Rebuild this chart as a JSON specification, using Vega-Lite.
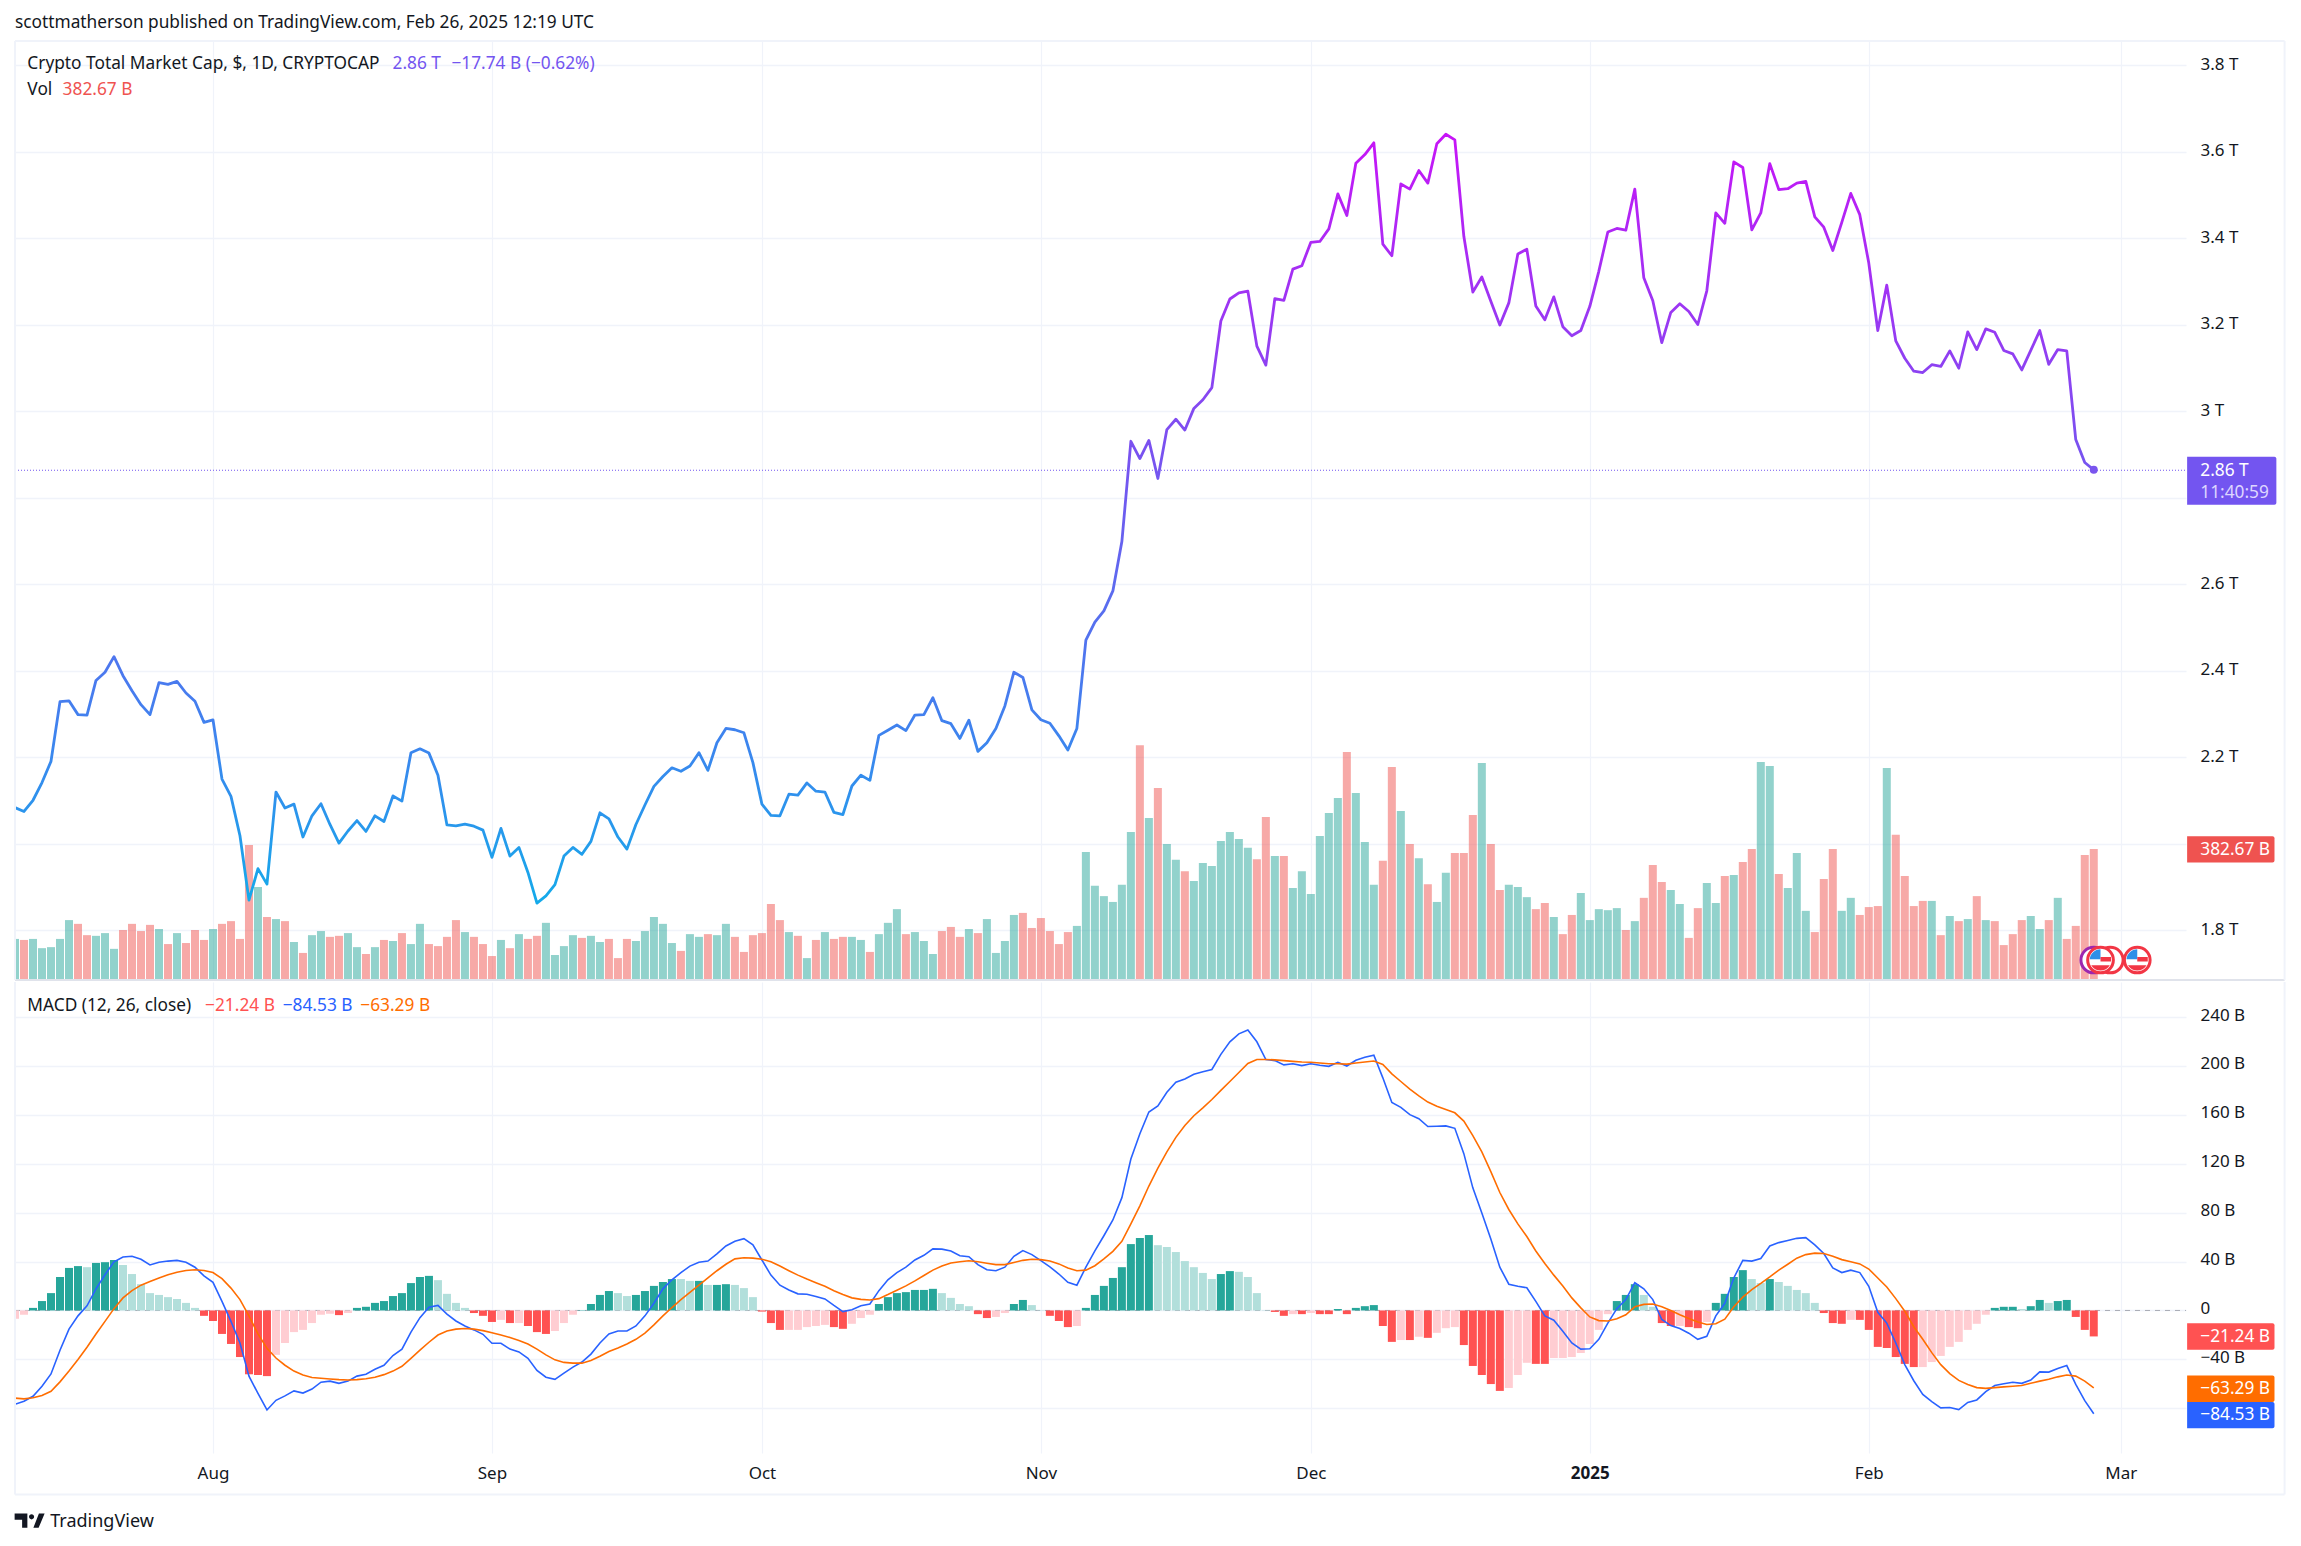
{
  "$schema": "https://vega.github.io/schema/vega-lite/v6.json",
  "background": "#ffffff",
  "autosize": {"type": "none"},
  "padding": {"left": 15, "top": 41, "right": 2286, "bottom": 1505},
  "spacing": 0,
  "config": {
    "view": {"stroke": null},
    "concat": {"spacing": 0},
    "axis": {"labelFont": "Noto Sans", "labelFontSize": 17, "labelColor": "#131722", "titleFont": "Noto Sans"},
    "text": {"font": "Noto Sans", "fontSize": 17.3}
  },
  "datasets": {
    "daily": [
      {"date":"2024-07-10","close":2.083,"volume":120,"dir":"up","hist":-6.8,"state":"downfade","macd":-76.7,"signal":-71.7},
      {"date":"2024-07-11","close":2.074,"volume":117,"dir":"down","hist":-3.5,"state":"downfade","macd":-74.3,"signal":-72.3},
      {"date":"2024-07-12","close":2.1,"volume":120,"dir":"up","hist":2.1,"state":"up","macd":-70.2,"signal":-71.4},
      {"date":"2024-07-13","close":2.141,"volume":93,"dir":"up","hist":7.7,"state":"up","macd":-62,"signal":-69.6},
      {"date":"2024-07-14","close":2.19,"volume":96,"dir":"up","hist":14.2,"state":"up","macd":-51.9,"signal":-66.1},
      {"date":"2024-07-15","close":2.328,"volume":120,"dir":"up","hist":27.4,"state":"up","macd":-32.5,"signal":-58.4},
      {"date":"2024-07-16","close":2.33,"volume":175,"dir":"up","hist":34.8,"state":"up","macd":-15.3,"signal":-49.6},
      {"date":"2024-07-17","close":2.298,"volume":164,"dir":"down","hist":36.3,"state":"up","macd":-4.4,"signal":-40.1},
      {"date":"2024-07-18","close":2.297,"volume":131,"dir":"down","hist":35.4,"state":"upfade","macd":3.8,"signal":-30.1},
      {"date":"2024-07-19","close":2.377,"volume":129,"dir":"up","hist":38.9,"state":"up","macd":17.7,"signal":-19.2},
      {"date":"2024-07-20","close":2.396,"volume":137,"dir":"up","hist":39.5,"state":"up","macd":29.2,"signal":-8.9},
      {"date":"2024-07-21","close":2.432,"volume":91,"dir":"up","hist":41.3,"state":"up","macd":39.8,"signal":1.5},
      {"date":"2024-07-22","close":2.388,"volume":146,"dir":"down","hist":37.2,"state":"upfade","macd":43.7,"signal":10.3},
      {"date":"2024-07-23","close":2.353,"volume":164,"dir":"down","hist":29.8,"state":"upfade","macd":44.3,"signal":16.2},
      {"date":"2024-07-24","close":2.321,"volume":143,"dir":"down","hist":21.5,"state":"upfade","macd":41.9,"signal":20.7},
      {"date":"2024-07-25","close":2.298,"volume":161,"dir":"down","hist":14.2,"state":"upfade","macd":37.2,"signal":23.6},
      {"date":"2024-07-26","close":2.372,"volume":149,"dir":"up","hist":12.7,"state":"upfade","macd":39.5,"signal":26.6},
      {"date":"2024-07-27","close":2.368,"volume":105,"dir":"down","hist":10.9,"state":"upfade","macd":40.4,"signal":29.2},
      {"date":"2024-07-28","close":2.375,"volume":137,"dir":"up","hist":9.4,"state":"upfade","macd":41,"signal":31.3},
      {"date":"2024-07-29","close":2.348,"volume":108,"dir":"down","hist":6.2,"state":"upfade","macd":39.5,"signal":32.7},
      {"date":"2024-07-30","close":2.329,"volume":146,"dir":"down","hist":2.1,"state":"upfade","macd":35.4,"signal":33.3},
      {"date":"2024-07-31","close":2.28,"volume":117,"dir":"down","hist":-4.4,"state":"down","macd":28.3,"signal":32.7},
      {"date":"2024-08-01","close":2.286,"volume":149,"dir":"up","hist":-8.6,"state":"down","macd":23,"signal":31},
      {"date":"2024-08-02","close":2.149,"volume":164,"dir":"down","hist":-19.2,"state":"down","macd":7.4,"signal":26},
      {"date":"2024-08-03","close":2.109,"volume":172,"dir":"down","hist":-27.4,"state":"down","macd":-8.9,"signal":18.3},
      {"date":"2024-08-04","close":2.018,"volume":120,"dir":"down","hist":-38.1,"state":"down","macd":-26.6,"signal":8.9},
      {"date":"2024-08-05","close":1.869,"volume":394,"dir":"down","hist":-52.2,"state":"down","macd":-53.7,"signal":-4.4},
      {"date":"2024-08-06","close":1.942,"volume":272,"dir":"up","hist":-52.8,"state":"down","macd":-67.9,"signal":-19.2},
      {"date":"2024-08-07","close":1.906,"volume":184,"dir":"down","hist":-53.7,"state":"down","macd":-81.4,"signal":-31},
      {"date":"2024-08-08","close":2.119,"volume":178,"dir":"up","hist":-36.3,"state":"downfade","macd":-73.5,"signal":-38.9},
      {"date":"2024-08-09","close":2.082,"volume":172,"dir":"down","hist":-26.6,"state":"downfade","macd":-69.9,"signal":-44.8},
      {"date":"2024-08-10","close":2.091,"volume":111,"dir":"up","hist":-17.7,"state":"downfade","macd":-65.8,"signal":-49.6},
      {"date":"2024-08-11","close":2.015,"volume":79,"dir":"down","hist":-15.9,"state":"downfade","macd":-67.6,"signal":-52.8},
      {"date":"2024-08-12","close":2.064,"volume":131,"dir":"up","hist":-10.3,"state":"downfade","macd":-64.3,"signal":-54.9},
      {"date":"2024-08-13","close":2.092,"volume":143,"dir":"up","hist":-3.5,"state":"downfade","macd":-58.7,"signal":-55.5},
      {"date":"2024-08-14","close":2.044,"volume":126,"dir":"down","hist":-2.7,"state":"downfade","macd":-57.8,"signal":-56.1},
      {"date":"2024-08-15","close":2.001,"volume":129,"dir":"down","hist":-3.8,"state":"down","macd":-59.6,"signal":-56.6},
      {"date":"2024-08-16","close":2.029,"volume":137,"dir":"up","hist":-2.1,"state":"downfade","macd":-57.8,"signal":-56.9},
      {"date":"2024-08-17","close":2.053,"volume":96,"dir":"up","hist":2.1,"state":"up","macd":-53.7,"signal":-56.6},
      {"date":"2024-08-18","close":2.028,"volume":76,"dir":"down","hist":3,"state":"up","macd":-52.2,"signal":-55.8},
      {"date":"2024-08-19","close":2.064,"volume":96,"dir":"up","hist":6.2,"state":"up","macd":-48.1,"signal":-54.6},
      {"date":"2024-08-20","close":2.051,"volume":117,"dir":"down","hist":7.7,"state":"up","macd":-44.8,"signal":-52.5},
      {"date":"2024-08-21","close":2.11,"volume":114,"dir":"up","hist":11.8,"state":"up","macd":-36.9,"signal":-49.6},
      {"date":"2024-08-22","close":2.098,"volume":137,"dir":"down","hist":14.2,"state":"up","macd":-31.6,"signal":-45.7},
      {"date":"2024-08-23","close":2.21,"volume":105,"dir":"up","hist":22.4,"state":"up","macd":-17.7,"signal":-39.2},
      {"date":"2024-08-24","close":2.219,"volume":164,"dir":"up","hist":27.4,"state":"up","macd":-5.9,"signal":-32.5},
      {"date":"2024-08-25","close":2.209,"volume":105,"dir":"down","hist":28.3,"state":"up","macd":2.7,"signal":-26},
      {"date":"2024-08-26","close":2.158,"volume":99,"dir":"down","hist":24.8,"state":"upfade","macd":4.1,"signal":-20.1},
      {"date":"2024-08-27","close":2.043,"volume":126,"dir":"down","hist":13.6,"state":"upfade","macd":-3,"signal":-16.8},
      {"date":"2024-08-28","close":2.041,"volume":175,"dir":"down","hist":6.2,"state":"upfade","macd":-8.6,"signal":-15.3},
      {"date":"2024-08-29","close":2.045,"volume":140,"dir":"up","hist":2.1,"state":"upfade","macd":-12.7,"signal":-14.8},
      {"date":"2024-08-30","close":2.04,"volume":126,"dir":"down","hist":-2.1,"state":"down","macd":-15.9,"signal":-15.3},
      {"date":"2024-08-31","close":2.031,"volume":105,"dir":"down","hist":-4.4,"state":"down","macd":-19.5,"signal":-16.5},
      {"date":"2024-09-01","close":1.968,"volume":70,"dir":"down","hist":-9.4,"state":"down","macd":-26.8,"signal":-18.3},
      {"date":"2024-09-02","close":2.035,"volume":117,"dir":"up","hist":-7.7,"state":"downfade","macd":-26.8,"signal":-20.1},
      {"date":"2024-09-03","close":1.971,"volume":93,"dir":"down","hist":-10.3,"state":"down","macd":-31.6,"signal":-22.1},
      {"date":"2024-09-04","close":1.991,"volume":134,"dir":"up","hist":-10.3,"state":"downfade","macd":-33.9,"signal":-24.5},
      {"date":"2024-09-05","close":1.933,"volume":120,"dir":"down","hist":-12.7,"state":"down","macd":-39.2,"signal":-27.4},
      {"date":"2024-09-06","close":1.862,"volume":129,"dir":"down","hist":-17.7,"state":"down","macd":-49,"signal":-31.6},
      {"date":"2024-09-07","close":1.879,"volume":167,"dir":"up","hist":-19.2,"state":"down","macd":-54.6,"signal":-36.3},
      {"date":"2024-09-08","close":1.905,"volume":73,"dir":"up","hist":-16.8,"state":"downfade","macd":-56.3,"signal":-40.4},
      {"date":"2024-09-09","close":1.971,"volume":99,"dir":"up","hist":-10.3,"state":"downfade","macd":-51.3,"signal":-42.5},
      {"date":"2024-09-10","close":1.991,"volume":131,"dir":"up","hist":-3.5,"state":"downfade","macd":-46.3,"signal":-43.1},
      {"date":"2024-09-11","close":1.975,"volume":123,"dir":"down","hist":0.3,"state":"up","macd":-42.2,"signal":-43.1},
      {"date":"2024-09-12","close":2.005,"volume":129,"dir":"up","hist":5.3,"state":"up","macd":-35.7,"signal":-41},
      {"date":"2024-09-13","close":2.071,"volume":111,"dir":"up","hist":12.7,"state":"up","macd":-26.6,"signal":-37.5},
      {"date":"2024-09-14","close":2.057,"volume":120,"dir":"down","hist":15.9,"state":"up","macd":-19.2,"signal":-33.6},
      {"date":"2024-09-15","close":2.015,"volume":64,"dir":"down","hist":14.2,"state":"upfade","macd":-16.8,"signal":-30.7},
      {"date":"2024-09-16","close":1.987,"volume":120,"dir":"down","hist":11.8,"state":"upfade","macd":-16.8,"signal":-27.4},
      {"date":"2024-09-17","close":2.044,"volume":114,"dir":"up","hist":12.7,"state":"up","macd":-12.7,"signal":-23.6},
      {"date":"2024-09-18","close":2.089,"volume":143,"dir":"up","hist":15.9,"state":"up","macd":-4.4,"signal":-18.6},
      {"date":"2024-09-19","close":2.132,"volume":184,"dir":"up","hist":20.1,"state":"up","macd":5.9,"signal":-11.8},
      {"date":"2024-09-20","close":2.155,"volume":164,"dir":"up","hist":23.3,"state":"up","macd":17.7,"signal":-4.4},
      {"date":"2024-09-21","close":2.175,"volume":108,"dir":"up","hist":25.7,"state":"up","macd":25.1,"signal":2.4},
      {"date":"2024-09-22","close":2.167,"volume":85,"dir":"down","hist":25.7,"state":"upfade","macd":31,"signal":8.9},
      {"date":"2024-09-23","close":2.179,"volume":134,"dir":"up","hist":24.2,"state":"upfade","macd":36.3,"signal":14.8},
      {"date":"2024-09-24","close":2.21,"volume":126,"dir":"up","hist":24.2,"state":"up","macd":39.5,"signal":20.7},
      {"date":"2024-09-25","close":2.169,"volume":134,"dir":"down","hist":20.9,"state":"upfade","macd":40.4,"signal":26.6},
      {"date":"2024-09-26","close":2.233,"volume":131,"dir":"up","hist":20.9,"state":"up","macd":46.3,"signal":32.5},
      {"date":"2024-09-27","close":2.266,"volume":164,"dir":"up","hist":21.5,"state":"up","macd":52.8,"signal":37.8},
      {"date":"2024-09-28","close":2.263,"volume":126,"dir":"down","hist":20.9,"state":"upfade","macd":56.6,"signal":42.2},
      {"date":"2024-09-29","close":2.256,"volume":82,"dir":"down","hist":18.3,"state":"upfade","macd":58.7,"signal":43.1},
      {"date":"2024-09-30","close":2.187,"volume":131,"dir":"down","hist":10.9,"state":"upfade","macd":53.7,"signal":42.8},
      {"date":"2024-10-01","close":2.091,"volume":137,"dir":"down","hist":-0.9,"state":"down","macd":41.3,"signal":41.9},
      {"date":"2024-10-02","close":2.065,"volume":222,"dir":"down","hist":-10.3,"state":"down","macd":28.9,"signal":39.8},
      {"date":"2024-10-03","close":2.064,"volume":175,"dir":"down","hist":-15.9,"state":"down","macd":20.7,"signal":36.3},
      {"date":"2024-10-04","close":2.114,"volume":140,"dir":"up","hist":-15.9,"state":"downfade","macd":16.8,"signal":32.5},
      {"date":"2024-10-05","close":2.112,"volume":129,"dir":"down","hist":-15.9,"state":"downfade","macd":13.6,"signal":28.9},
      {"date":"2024-10-06","close":2.14,"volume":64,"dir":"up","hist":-13.6,"state":"downfade","macd":13.3,"signal":25.7},
      {"date":"2024-10-07","close":2.121,"volume":117,"dir":"down","hist":-12.7,"state":"downfade","macd":11.5,"signal":22.7},
      {"date":"2024-10-08","close":2.119,"volume":140,"dir":"up","hist":-11.8,"state":"downfade","macd":9.4,"signal":19.8},
      {"date":"2024-10-09","close":2.072,"volume":120,"dir":"down","hist":-13.6,"state":"down","macd":4.1,"signal":16.2},
      {"date":"2024-10-10","close":2.067,"volume":126,"dir":"down","hist":-15,"state":"down","macd":-0.9,"signal":13},
      {"date":"2024-10-11","close":2.133,"volume":126,"dir":"up","hist":-10.9,"state":"downfade","macd":0.6,"signal":10.3},
      {"date":"2024-10-12","close":2.158,"volume":117,"dir":"up","hist":-6.2,"state":"downfade","macd":3.8,"signal":9.1},
      {"date":"2024-10-13","close":2.146,"volume":82,"dir":"down","hist":-3.5,"state":"downfade","macd":5.3,"signal":8.6},
      {"date":"2024-10-14","close":2.25,"volume":134,"dir":"up","hist":5.3,"state":"up","macd":16.2,"signal":9.7},
      {"date":"2024-10-15","close":2.262,"volume":167,"dir":"up","hist":10.9,"state":"up","macd":25.1,"signal":13},
      {"date":"2024-10-16","close":2.274,"volume":207,"dir":"up","hist":14.2,"state":"up","macd":31,"signal":16.5},
      {"date":"2024-10-17","close":2.261,"volume":134,"dir":"down","hist":15,"state":"up","macd":35.4,"signal":20.1},
      {"date":"2024-10-18","close":2.297,"volume":140,"dir":"up","hist":16.8,"state":"up","macd":41.3,"signal":24.2},
      {"date":"2024-10-19","close":2.298,"volume":114,"dir":"up","hist":16.8,"state":"up","macd":45.1,"signal":28.6},
      {"date":"2024-10-20","close":2.337,"volume":76,"dir":"up","hist":17.7,"state":"up","macd":50.4,"signal":33},
      {"date":"2024-10-21","close":2.284,"volume":143,"dir":"down","hist":14.2,"state":"upfade","macd":50.2,"signal":36.3},
      {"date":"2024-10-22","close":2.277,"volume":155,"dir":"down","hist":10.3,"state":"upfade","macd":48.7,"signal":38.9},
      {"date":"2024-10-23","close":2.243,"volume":126,"dir":"down","hist":5.3,"state":"upfade","macd":44.8,"signal":39.8},
      {"date":"2024-10-24","close":2.285,"volume":149,"dir":"up","hist":3.5,"state":"upfade","macd":44,"signal":40.7},
      {"date":"2024-10-25","close":2.213,"volume":137,"dir":"down","hist":-3,"state":"down","macd":37.5,"signal":39.8},
      {"date":"2024-10-26","close":2.233,"volume":178,"dir":"up","hist":-6.2,"state":"down","macd":33.3,"signal":38.6},
      {"date":"2024-10-27","close":2.266,"volume":79,"dir":"up","hist":-5.3,"state":"downfade","macd":32.5,"signal":37.5},
      {"date":"2024-10-28","close":2.318,"volume":114,"dir":"up","hist":-2.1,"state":"downfade","macd":35.4,"signal":37.5},
      {"date":"2024-10-29","close":2.396,"volume":190,"dir":"up","hist":5.3,"state":"up","macd":44.3,"signal":39.2},
      {"date":"2024-10-30","close":2.384,"volume":196,"dir":"down","hist":8.6,"state":"up","macd":49,"signal":41},
      {"date":"2024-10-31","close":2.309,"volume":152,"dir":"down","hist":4.4,"state":"upfade","macd":45.7,"signal":41.9},
      {"date":"2024-11-01","close":2.286,"volume":181,"dir":"down","hist":0.3,"state":"upfade","macd":40.7,"signal":41.6},
      {"date":"2024-11-02","close":2.278,"volume":143,"dir":"down","hist":-4.4,"state":"down","macd":35.7,"signal":40.4},
      {"date":"2024-11-03","close":2.249,"volume":105,"dir":"down","hist":-8.6,"state":"down","macd":29.8,"signal":38.1},
      {"date":"2024-11-04","close":2.216,"volume":140,"dir":"down","hist":-13.6,"state":"down","macd":23,"signal":34.8},
      {"date":"2024-11-05","close":2.266,"volume":158,"dir":"up","hist":-12.7,"state":"downfade","macd":20.7,"signal":32.5},
      {"date":"2024-11-06","close":2.47,"volume":374,"dir":"up","hist":2.1,"state":"up","macd":35.4,"signal":33},
      {"date":"2024-11-07","close":2.512,"volume":275,"dir":"up","hist":12.7,"state":"up","macd":48.7,"signal":36.6},
      {"date":"2024-11-08","close":2.538,"volume":245,"dir":"up","hist":20.1,"state":"up","macd":61.1,"signal":42.2},
      {"date":"2024-11-09","close":2.584,"volume":228,"dir":"up","hist":26.6,"state":"up","macd":74,"signal":48.4},
      {"date":"2024-11-10","close":2.698,"volume":278,"dir":"up","hist":35.4,"state":"up","macd":92.3,"signal":56.6},
      {"date":"2024-11-11","close":2.93,"volume":432,"dir":"up","hist":54.3,"state":"up","macd":123.9,"signal":70.8},
      {"date":"2024-11-12","close":2.89,"volume":686,"dir":"down","hist":59.3,"state":"up","macd":144.6,"signal":85.6},
      {"date":"2024-11-13","close":2.932,"volume":473,"dir":"up","hist":61.7,"state":"up","macd":162.3,"signal":101.8},
      {"date":"2024-11-14","close":2.844,"volume":561,"dir":"down","hist":53.4,"state":"upfade","macd":167.3,"signal":116.5},
      {"date":"2024-11-15","close":2.957,"volume":397,"dir":"up","hist":51.9,"state":"upfade","macd":178.5,"signal":129.8},
      {"date":"2024-11-16","close":2.981,"volume":351,"dir":"up","hist":47.8,"state":"upfade","macd":186.7,"signal":141.6},
      {"date":"2024-11-17","close":2.956,"volume":318,"dir":"down","hist":40.4,"state":"upfade","macd":189.4,"signal":151.3},
      {"date":"2024-11-18","close":3.006,"volume":289,"dir":"up","hist":35.4,"state":"upfade","macd":193.2,"signal":159.3},
      {"date":"2024-11-19","close":3.026,"volume":342,"dir":"up","hist":30.7,"state":"upfade","macd":195.3,"signal":165.8},
      {"date":"2024-11-20","close":3.054,"volume":333,"dir":"up","hist":25.7,"state":"upfade","macd":197.1,"signal":172.6},
      {"date":"2024-11-21","close":3.208,"volume":406,"dir":"up","hist":29.8,"state":"up","macd":209.5,"signal":180},
      {"date":"2024-11-22","close":3.259,"volume":432,"dir":"up","hist":32.2,"state":"up","macd":219.8,"signal":187.3},
      {"date":"2024-11-23","close":3.273,"volume":412,"dir":"up","hist":31.6,"state":"upfade","macd":226.3,"signal":194.7},
      {"date":"2024-11-24","close":3.277,"volume":386,"dir":"up","hist":27.4,"state":"upfade","macd":229.5,"signal":202.1},
      {"date":"2024-11-25","close":3.15,"volume":353,"dir":"down","hist":14.2,"state":"upfade","macd":219.8,"signal":205.3},
      {"date":"2024-11-26","close":3.106,"volume":476,"dir":"down","hist":0.3,"state":"upfade","macd":205.3,"signal":205.3},
      {"date":"2024-11-27","close":3.26,"volume":362,"dir":"up","hist":-1.2,"state":"down","macd":204.4,"signal":205},
      {"date":"2024-11-28","close":3.256,"volume":362,"dir":"down","hist":-4.4,"state":"down","macd":200.9,"signal":204.4},
      {"date":"2024-11-29","close":3.328,"volume":269,"dir":"up","hist":-3,"state":"downfade","macd":201.8,"signal":203.8},
      {"date":"2024-11-30","close":3.336,"volume":318,"dir":"up","hist":-3,"state":"down","macd":200.3,"signal":203.3},
      {"date":"2024-12-01","close":3.39,"volume":251,"dir":"up","hist":-2.1,"state":"downfade","macd":201.8,"signal":203},
      {"date":"2024-12-02","close":3.392,"volume":421,"dir":"up","hist":-3,"state":"down","macd":200.6,"signal":202.4},
      {"date":"2024-12-03","close":3.421,"volume":488,"dir":"up","hist":-3,"state":"down","macd":199.7,"signal":201.8},
      {"date":"2024-12-04","close":3.502,"volume":532,"dir":"up","hist":1.2,"state":"up","macd":203,"signal":201.8},
      {"date":"2024-12-05","close":3.452,"volume":666,"dir":"down","hist":-3,"state":"down","macd":200,"signal":201.5},
      {"date":"2024-12-06","close":3.573,"volume":546,"dir":"up","hist":2.1,"state":"up","macd":204.7,"signal":202.4},
      {"date":"2024-12-07","close":3.593,"volume":403,"dir":"up","hist":3.5,"state":"up","macd":207.1,"signal":203.3},
      {"date":"2024-12-08","close":3.62,"volume":278,"dir":"up","hist":4.4,"state":"up","macd":208.9,"signal":204.1},
      {"date":"2024-12-09","close":3.386,"volume":348,"dir":"down","hist":-12.7,"state":"down","macd":190.3,"signal":201.2},
      {"date":"2024-12-10","close":3.359,"volume":622,"dir":"down","hist":-25.7,"state":"down","macd":170.2,"signal":193.5},
      {"date":"2024-12-11","close":3.525,"volume":494,"dir":"up","hist":-24.2,"state":"downfade","macd":166.1,"signal":187.3},
      {"date":"2024-12-12","close":3.513,"volume":397,"dir":"down","hist":-24.2,"state":"down","macd":160.2,"signal":181.1},
      {"date":"2024-12-13","close":3.556,"volume":356,"dir":"up","hist":-21.5,"state":"downfade","macd":156.9,"signal":175.5},
      {"date":"2024-12-14","close":3.527,"volume":280,"dir":"down","hist":-22.4,"state":"down","macd":150.5,"signal":170.5},
      {"date":"2024-12-15","close":3.618,"volume":228,"dir":"up","hist":-18.3,"state":"downfade","macd":150.7,"signal":167},
      {"date":"2024-12-16","close":3.64,"volume":313,"dir":"up","hist":-14.5,"state":"downfade","macd":151,"signal":164.3},
      {"date":"2024-12-17","close":3.627,"volume":371,"dir":"down","hist":-13.6,"state":"downfade","macd":149,"signal":161.7},
      {"date":"2024-12-18","close":3.404,"volume":371,"dir":"down","hist":-28.3,"state":"down","macd":128.3,"signal":154.9},
      {"date":"2024-12-19","close":3.275,"volume":482,"dir":"down","hist":-45.4,"state":"down","macd":100.3,"signal":143.1},
      {"date":"2024-12-20","close":3.31,"volume":634,"dir":"up","hist":-52.8,"state":"down","macd":79.7,"signal":129.8},
      {"date":"2024-12-21","close":3.254,"volume":397,"dir":"down","hist":-60.2,"state":"down","macd":58.4,"signal":113.6},
      {"date":"2024-12-22","close":3.199,"volume":263,"dir":"down","hist":-65.8,"state":"down","macd":35.4,"signal":96.5},
      {"date":"2024-12-23","close":3.25,"volume":278,"dir":"up","hist":-63.4,"state":"downfade","macd":21.5,"signal":82.6},
      {"date":"2024-12-24","close":3.363,"volume":272,"dir":"up","hist":-52.8,"state":"downfade","macd":19.8,"signal":70.8},
      {"date":"2024-12-25","close":3.374,"volume":242,"dir":"up","hist":-42.8,"state":"downfade","macd":18.6,"signal":60.5},
      {"date":"2024-12-26","close":3.243,"volume":207,"dir":"down","hist":-43.7,"state":"down","macd":7.4,"signal":48.7},
      {"date":"2024-12-27","close":3.211,"volume":225,"dir":"down","hist":-43.7,"state":"down","macd":-4.4,"signal":38.4},
      {"date":"2024-12-28","close":3.264,"volume":184,"dir":"up","hist":-38.9,"state":"downfade","macd":-8,"signal":28.9},
      {"date":"2024-12-29","close":3.195,"volume":134,"dir":"down","hist":-38.9,"state":"downfade","macd":-17.1,"signal":20.1},
      {"date":"2024-12-30","close":3.174,"volume":190,"dir":"down","hist":-38.1,"state":"downfade","macd":-26.6,"signal":10.3},
      {"date":"2024-12-31","close":3.186,"volume":254,"dir":"up","hist":-34.8,"state":"downfade","macd":-31.6,"signal":2.1},
      {"date":"2025-01-01","close":3.242,"volume":175,"dir":"up","hist":-27.4,"state":"downfade","macd":-31.3,"signal":-5.3},
      {"date":"2025-01-02","close":3.323,"volume":207,"dir":"up","hist":-15.9,"state":"downfade","macd":-23.6,"signal":-8.3},
      {"date":"2025-01-03","close":3.414,"volume":204,"dir":"up","hist":-3,"state":"downfade","macd":-10.3,"signal":-8.6},
      {"date":"2025-01-04","close":3.422,"volume":210,"dir":"up","hist":7.7,"state":"up","macd":1.5,"signal":-6.8},
      {"date":"2025-01-05","close":3.418,"volume":146,"dir":"down","hist":12.7,"state":"up","macd":8.9,"signal":-3.5},
      {"date":"2025-01-06","close":3.513,"volume":172,"dir":"up","hist":21.5,"state":"up","macd":22.7,"signal":3},
      {"date":"2025-01-07","close":3.308,"volume":240,"dir":"down","hist":12.7,"state":"upfade","macd":17.7,"signal":5},
      {"date":"2025-01-08","close":3.255,"volume":336,"dir":"down","hist":3,"state":"upfade","macd":8.9,"signal":5.3},
      {"date":"2025-01-09","close":3.158,"volume":286,"dir":"down","hist":-10.3,"state":"down","macd":-7.4,"signal":3},
      {"date":"2025-01-10","close":3.228,"volume":263,"dir":"up","hist":-12.7,"state":"down","macd":-12.4,"signal":0},
      {"date":"2025-01-11","close":3.248,"volume":222,"dir":"up","hist":-12.7,"state":"downfade","macd":-14.8,"signal":-3.5},
      {"date":"2025-01-12","close":3.23,"volume":123,"dir":"down","hist":-13.6,"state":"down","macd":-18.6,"signal":-6.5},
      {"date":"2025-01-13","close":3.2,"volume":210,"dir":"down","hist":-14.5,"state":"down","macd":-23.6,"signal":-9.4},
      {"date":"2025-01-14","close":3.278,"volume":283,"dir":"up","hist":-9.4,"state":"downfade","macd":-21.2,"signal":-11.5},
      {"date":"2025-01-15","close":3.458,"volume":225,"dir":"up","hist":6.2,"state":"up","macd":-4.4,"signal":-10.9},
      {"date":"2025-01-16","close":3.434,"volume":304,"dir":"down","hist":13.6,"state":"up","macd":5.9,"signal":-7.1},
      {"date":"2025-01-17","close":3.576,"volume":307,"dir":"up","hist":27.4,"state":"up","macd":26.6,"signal":3},
      {"date":"2025-01-18","close":3.563,"volume":345,"dir":"down","hist":33,"state":"up","macd":41,"signal":10.9},
      {"date":"2025-01-19","close":3.419,"volume":383,"dir":"down","hist":25.7,"state":"upfade","macd":40.4,"signal":17.1},
      {"date":"2025-01-20","close":3.458,"volume":637,"dir":"up","hist":22.4,"state":"upfade","macd":42.5,"signal":22.1},
      {"date":"2025-01-21","close":3.572,"volume":625,"dir":"up","hist":25.7,"state":"up","macd":52.8,"signal":27.4},
      {"date":"2025-01-22","close":3.512,"volume":310,"dir":"down","hist":23.3,"state":"upfade","macd":55.5,"signal":33},
      {"date":"2025-01-23","close":3.514,"volume":269,"dir":"up","hist":20.1,"state":"upfade","macd":57.2,"signal":37.8},
      {"date":"2025-01-24","close":3.527,"volume":371,"dir":"up","hist":16.8,"state":"upfade","macd":59,"signal":42.8},
      {"date":"2025-01-25","close":3.531,"volume":202,"dir":"up","hist":14.2,"state":"upfade","macd":59.6,"signal":45.7},
      {"date":"2025-01-26","close":3.449,"volume":140,"dir":"down","hist":6.2,"state":"upfade","macd":53.7,"signal":46.9},
      {"date":"2025-01-27","close":3.425,"volume":295,"dir":"down","hist":-2.1,"state":"down","macd":46.6,"signal":46.6},
      {"date":"2025-01-28","close":3.371,"volume":383,"dir":"down","hist":-10.3,"state":"down","macd":34.8,"signal":44.3},
      {"date":"2025-01-29","close":3.436,"volume":202,"dir":"up","hist":-10.9,"state":"down","macd":31,"signal":41.6},
      {"date":"2025-01-30","close":3.503,"volume":240,"dir":"up","hist":-7.7,"state":"downfade","macd":33,"signal":39.8},
      {"date":"2025-01-31","close":3.454,"volume":190,"dir":"down","hist":-7.7,"state":"down","macd":31,"signal":38.1},
      {"date":"2025-02-01","close":3.342,"volume":213,"dir":"down","hist":-15.9,"state":"down","macd":19.8,"signal":33.9},
      {"date":"2025-02-02","close":3.186,"volume":216,"dir":"down","hist":-29.8,"state":"down","macd":-1.5,"signal":26.6},
      {"date":"2025-02-03","close":3.291,"volume":619,"dir":"up","hist":-30.7,"state":"down","macd":-10.3,"signal":19.2},
      {"date":"2025-02-04","close":3.162,"volume":424,"dir":"down","hist":-38.1,"state":"down","macd":-26.6,"signal":9.7},
      {"date":"2025-02-05","close":3.122,"volume":304,"dir":"down","hist":-43.7,"state":"down","macd":-44.3,"signal":-0.6},
      {"date":"2025-02-06","close":3.092,"volume":216,"dir":"down","hist":-46.3,"state":"down","macd":-57.5,"signal":-13.3},
      {"date":"2025-02-07","close":3.089,"volume":231,"dir":"down","hist":-46.3,"state":"downfade","macd":-68.7,"signal":-23.6},
      {"date":"2025-02-08","close":3.107,"volume":231,"dir":"up","hist":-42.2,"state":"downfade","macd":-74.6,"signal":-34.5},
      {"date":"2025-02-09","close":3.103,"volume":131,"dir":"down","hist":-37.2,"state":"downfade","macd":-79.7,"signal":-44.3},
      {"date":"2025-02-10","close":3.139,"volume":187,"dir":"up","hist":-29.8,"state":"downfade","macd":-79.4,"signal":-51.6},
      {"date":"2025-02-11","close":3.099,"volume":172,"dir":"down","hist":-25.7,"state":"downfade","macd":-81.1,"signal":-57.2},
      {"date":"2025-02-12","close":3.183,"volume":178,"dir":"up","hist":-15.9,"state":"downfade","macd":-75.2,"signal":-60.5},
      {"date":"2025-02-13","close":3.142,"volume":245,"dir":"down","hist":-10.9,"state":"downfade","macd":-73.2,"signal":-63.1},
      {"date":"2025-02-14","close":3.19,"volume":175,"dir":"up","hist":-3.5,"state":"downfade","macd":-66.4,"signal":-63.7},
      {"date":"2025-02-15","close":3.182,"volume":172,"dir":"down","hist":2.1,"state":"up","macd":-61.4,"signal":-63.1},
      {"date":"2025-02-16","close":3.14,"volume":102,"dir":"down","hist":3,"state":"up","macd":-59.9,"signal":-62.5},
      {"date":"2025-02-17","close":3.132,"volume":134,"dir":"down","hist":3,"state":"up","macd":-58.7,"signal":-62},
      {"date":"2025-02-18","close":3.095,"volume":175,"dir":"down","hist":1.2,"state":"upfade","macd":-59.6,"signal":-61.4},
      {"date":"2025-02-19","close":3.14,"volume":187,"dir":"up","hist":3.5,"state":"up","macd":-56.9,"signal":-59.6},
      {"date":"2025-02-20","close":3.186,"volume":149,"dir":"up","hist":8.6,"state":"up","macd":-50.2,"signal":-57.8},
      {"date":"2025-02-21","close":3.108,"volume":175,"dir":"down","hist":6.2,"state":"upfade","macd":-50.4,"signal":-56.3},
      {"date":"2025-02-22","close":3.142,"volume":240,"dir":"up","hist":7.7,"state":"up","macd":-47.5,"signal":-54.3},
      {"date":"2025-02-23","close":3.139,"volume":120,"dir":"down","hist":8.6,"state":"up","macd":-45.1,"signal":-52.8},
      {"date":"2025-02-24","close":2.934,"volume":158,"dir":"down","hist":-5.3,"state":"down","macd":-60.5,"signal":-53.7},
      {"date":"2025-02-25","close":2.881,"volume":365,"dir":"down","hist":-15.9,"state":"down","macd":-73.8,"signal":-57.8},
      {"date":"2025-02-26","close":2.864,"volume":382.67,"dir":"down","hist":-21.24,"state":"down","macd":-84.53,"signal":-63.29}
    ],
    "last": [{"date":"2025-02-26","close":2.864}],
    "events": [
      {"date":"2025-02-26T00:00:00Z","price":1.7306,"kind":"purple","flag":false},
      {"date":"2025-02-27T20:00:00Z","price":1.7306,"kind":"red","flag":false},
      {"date":"2025-02-26T18:00:00Z","price":1.7306,"kind":"red","flag":true},
      {"date":"2025-03-02T20:00:00Z","price":1.7306,"kind":"red","flag":true}
    ],
    "topNotes": [
      {"text":"scottmatherson published on TradingView.com, Feb 26, 2025 12:19 UTC","date":"2024-07-10T00:00:00Z","value":3.897,"kind":"ink"},
      {"text":"Crypto Total Market Cap, $, 1D, CRYPTOCAP","date":"2024-07-11T09:00:00Z","value":3.802,"kind":"ink"},
      {"text":"2.86 T","date":"2024-08-20T23:00:00Z","value":3.802,"kind":"purple"},
      {"text":"−17.74 B (−0.62%)","date":"2024-08-27T12:00:00Z","value":3.802,"kind":"purple"},
      {"text":"Vol","date":"2024-07-11T09:00:00Z","value":3.742,"kind":"ink"},
      {"text":"382.67 B","date":"2024-07-15T07:00:00Z","value":3.742,"kind":"red"}
    ],
    "topTags": [
      {"top":2.894,"bottom":2.783,"from":"2025-03-08T09:00:00Z","to":"2025-03-18T07:00:00Z","kind":"purple"},
      {"top":2.017,"bottom":1.956,"from":"2025-03-08T09:00:00Z","to":"2025-03-18T02:00:00Z","kind":"red"}
    ],
    "topTagText": [
      {"text":"2.86 T","at":"2025-03-09T20:00:00Z","value":2.862,"kind":"white"},
      {"text":"11:40:59","at":"2025-03-09T20:00:00Z","value":2.811,"kind":"pale"},
      {"text":"382.67 B","at":"2025-03-09T20:00:00Z","value":1.986,"kind":"white"}
    ],
    "macdNotes": [
      {"text":"MACD (12, 26, close)","date":"2024-07-11T09:00:00Z","value":248.7,"kind":"ink"},
      {"text":"−21.24 B","date":"2024-07-31T03:00:00Z","value":248.7,"kind":"hist"},
      {"text":"−84.53 B","date":"2024-08-08T18:00:00Z","value":248.7,"kind":"macd"},
      {"text":"−63.29 B","date":"2024-08-17T09:00:00Z","value":248.7,"kind":"signal"}
    ],
    "macdTags": [
      {"top":-10.4,"bottom":-32.1,"from":"2025-03-08T09:00:00Z","to":"2025-03-18T02:00:00Z","kind":"hist"},
      {"top":-53.2,"bottom":-74.8,"from":"2025-03-08T09:00:00Z","to":"2025-03-18T02:00:00Z","kind":"signal"},
      {"top":-74.8,"bottom":-96.3,"from":"2025-03-08T09:00:00Z","to":"2025-03-18T02:00:00Z","kind":"macd"}
    ],
    "macdTagText": [
      {"text":"−21.24 B","at":"2025-03-09T20:00:00Z","value":-21.5},
      {"text":"−63.29 B","at":"2025-03-09T20:00:00Z","value":-64},
      {"text":"−84.53 B","at":"2025-03-09T20:00:00Z","value":-85.5}
    ],
    "brand": [{"date":"2024-07-11T15:00:00Z","value":-171.9,"text":"TradingView","textDate":"2024-07-13T22:00:00Z","textValue":-173.3}]
  },
  "vconcat": [
    {
      "width": 2171,
      "height": 939,
      "resolve": {"scale": {"y": "independent", "color": "independent"}, "axis": {"y": "independent"}},
      "encoding": {
        "x": {
          "field": "date",
          "type": "temporal",
          "scale": {"type": "utc", "padding": 0, "domain": ["2024-07-10T00:00:00Z", "2025-03-08T06:00:00Z"]},
          "axis": {
            "values": ["2024-08-01T00:00:00Z", "2024-09-01T00:00:00Z", "2024-10-01T00:00:00Z", "2024-11-01T00:00:00Z", "2024-12-01T00:00:00Z", "2025-01-01T00:00:00Z", "2025-02-01T00:00:00Z", "2025-03-01T00:00:00Z"],
            "labels": false,
            "ticks": false,
            "domain": false,
            "title": null,
            "grid": true,
            "gridColor": "#f0f3fa",
            "gridWidth": 1.2
          }
        }
      },
      "layer": [
        {
          "data": {"name": "daily"},
          "mark": {"type": "bar", "width": 8, "clip": true, "fillOpacity": 0.5},
          "encoding": {
            "y": {"field": "volume", "type": "quantitative", "stack": null, "scale": {"domain": [0, 2743], "nice": false}, "axis": null},
            "color": {"field": "dir", "type": "nominal", "legend": null, "scale": {"domain": ["up", "down"], "range": ["#26a69a", "#ef5350"]}}
          }
        },
        {
          "resolve": {"scale": {"color": "independent"}},
          "encoding": {
            "y": {
              "field": "close",
              "type": "quantitative",
              "scale": {"domain": [1.6844, 3.8555], "nice": false, "zero": false},
              "axis": {
                "orient": "right",
                "values": [1.8, 2, 2.2, 2.4, 2.6, 2.8, 3, 3.2, 3.4, 3.6, 3.8],
                "labelExpr": "datum.value == 2.8 || datum.value == 2 ? '' : datum.value + ' T'",
                "labelPadding": 14,
                "labelOffset": -1,
                "labelOverlap": false,
                "labelBound": false,
                "ticks": false,
                "domain": false,
                "title": null,
                "grid": true,
                "gridColor": "#f0f3fa",
                "gridWidth": 1.5
              }
            }
          },
          "layer": [
            {
              "data": {"values": [{"from": "2024-07-10T00:00:00Z", "to": "2025-03-08T06:00:00Z", "value": 2.863}]},
              "mark": {"type": "rule", "stroke": "#7355f0", "strokeWidth": 1, "strokeDash": [1, 2]},
              "encoding": {"x": {"field": "from", "type": "temporal"}, "x2": {"field": "to"}, "y": {"field": "value", "type": "quantitative"}}
            },
            {
              "data": {"name": "daily"},
              "mark": {
                "type": "line",
                "strokeWidth": 2.8,
                "strokeJoin": "round",
                "stroke": {
                  "gradient": "linear", "x1": 0, "y1": 0, "x2": 0, "y2": 1,
                  "stops": [
                    {"offset": 0, "color": "#c714f7"},
                    {"offset": 0.4, "color": "#7b50f0"},
                    {"offset": 0.8, "color": "#3b86ee"},
                    {"offset": 1, "color": "#14aaea"}
                  ]
                }
              }
            },
            {
              "data": {"name": "last"},
              "mark": {"type": "circle", "size": 64, "color": "#7a55ee", "opacity": 1}
            },
            {
              "data": {"name": "events"},
              "mark": {"type": "point", "shape": "circle", "size": 660, "filled": true, "fill": "#ffffff", "fillOpacity": 1, "strokeOpacity": 1, "strokeWidth": 3},
              "encoding": {
                "y": {"field": "price", "type": "quantitative"},
                "stroke": {"field": "kind", "type": "nominal", "legend": null, "scale": {"domain": ["purple", "red"], "range": ["#9c27b0", "#f23645"]}}
              }
            },
            {
              "data": {"name": "events"},
              "transform": [{"filter": "datum.flag"}],
              "mark": {"type": "point", "shape": "M-0.72 -0.05A0.72 0.72 0 0 1 0 -0.72V-0.05Z", "size": 900, "filled": true, "color": "#2f8fe8", "opacity": 1},
              "encoding": {"y": {"field": "price", "type": "quantitative"}}
            },
            {
              "data": {"name": "events"},
              "transform": [{"filter": "datum.flag"}],
              "mark": {"type": "point", "shape": "M0 -0.2H0.7V0.1H0Z M-0.62 0.35H0.62A0.72 0.72 0 0 1 -0.62 0.35Z", "size": 900, "filled": true, "color": "#f23645", "opacity": 1},
              "encoding": {"y": {"field": "price", "type": "quantitative"}}
            },
            {
              "data": {"values": [{"from": "2024-07-10T00:00:00Z", "to": "2025-03-19T05:00:00Z", "value": 3.8555}]},
              "mark": {"type": "rule", "stroke": "#f0f3fa", "strokeWidth": 2},
              "encoding": {"x": {"field": "from", "type": "temporal"}, "x2": {"field": "to"}, "y": {"field": "value", "type": "quantitative"}}
            },
            {
              "data": {"values": [{"from": "2024-07-10T00:00:00Z", "to": "2025-03-19T05:00:00Z", "value": 1.6844}]},
              "mark": {"type": "rule", "stroke": "#e0e3eb", "strokeWidth": 2},
              "encoding": {"x": {"field": "from", "type": "temporal"}, "x2": {"field": "to"}, "y": {"field": "value", "type": "quantitative"}}
            },
            {
              "data": {"values": [{"at": "2024-07-10T00:00:00Z", "top": 3.8555, "bottom": 1.6844}, {"at": "2025-03-19T05:00:00Z", "top": 3.8555, "bottom": 1.6844}]},
              "mark": {"type": "rule", "stroke": "#f0f3fa", "strokeWidth": 2},
              "encoding": {"x": {"field": "at", "type": "temporal"}, "y": {"field": "top", "type": "quantitative"}, "y2": {"field": "bottom"}}
            },
            {
              "data": {"name": "topTags"},
              "mark": {"type": "rect", "cornerRadiusTopRight": 2, "cornerRadiusBottomRight": 2},
              "encoding": {
                "x": {"field": "from", "type": "temporal"},
                "x2": {"field": "to"},
                "y": {"field": "top", "type": "quantitative"},
                "y2": {"field": "bottom"},
                "color": {"field": "kind", "type": "nominal", "legend": null, "scale": {"domain": ["purple", "red"], "range": ["#7355f0", "#ef5350"]}}
              }
            },
            {
              "data": {"name": "topTagText"},
              "mark": {"type": "text", "align": "left", "baseline": "middle"},
              "encoding": {
                "x": {"field": "at", "type": "temporal"},
                "y": {"field": "value", "type": "quantitative"},
                "text": {"field": "text"},
                "color": {"field": "kind", "type": "nominal", "legend": null, "scale": {"domain": ["white", "pale"], "range": ["#ffffff", "#ded6ff"]}}
              }
            },
            {
              "data": {"name": "topNotes"},
              "mark": {"type": "text", "align": "left", "baseline": "middle"},
              "encoding": {
                "x": {"field": "date", "type": "temporal"},
                "y": {"field": "value", "type": "quantitative"},
                "text": {"field": "text"},
                "color": {"field": "kind", "type": "nominal", "legend": null, "scale": {"domain": ["ink", "purple", "red"], "range": ["#131722", "#7355f0", "#ef5350"]}}
              }
            }
          ]
        }
      ]
    },
    {
      "width": 2171,
      "height": 471,
      "resolve": {"scale": {"color": "independent"}},
      "encoding": {
        "x": {
          "field": "date",
          "type": "temporal",
          "scale": {"type": "utc", "padding": 0, "domain": ["2024-07-10T00:00:00Z", "2025-03-08T06:00:00Z"]},
          "axis": {
            "values": ["2024-08-01T00:00:00Z", "2024-09-01T00:00:00Z", "2024-10-01T00:00:00Z", "2024-11-01T00:00:00Z", "2024-12-01T00:00:00Z", "2025-01-01T00:00:00Z", "2025-02-01T00:00:00Z", "2025-03-01T00:00:00Z"],
            "labelExpr": "utcmonth(datum.value) == 0 ? '2025' : utcFormat(datum.value, '%b')",
            "labelFontWeight": {"condition": {"test": "utcmonth(datum.value) == 0", "value": "bold"}, "value": "normal"},
            "labelPadding": 12,
            "labelOverlap": false,
            "ticks": false,
            "domain": false,
            "title": null,
            "grid": true,
            "gridColor": "#f0f3fa",
            "gridWidth": 1.2
          }
        },
        "y": {
          "field": "macd",
          "type": "quantitative",
          "scale": {"domain": [-116.6, 268.7], "nice": false, "zero": false},
          "axis": {
            "orient": "right",
            "values": [-80, -40, 0, 40, 80, 120, 160, 200, 240],
            "labelExpr": "datum.value == -80 ? '' : datum.value == 0 ? '0' : (datum.value < 0 ? '−' : '') + abs(datum.value) + ' B'",
            "labelPadding": 14,
            "labelOffset": -2,
            "labelOverlap": false,
            "labelBound": false,
            "ticks": false,
            "domain": false,
            "title": null,
            "grid": true,
            "gridColor": "#f0f3fa",
            "gridWidth": 1.5
          }
        }
      },
      "layer": [
        {
          "data": {"values": [{"from": "2024-07-10T00:00:00Z", "to": "2025-03-08T06:00:00Z", "value": 0}]},
          "mark": {"type": "rule", "stroke": "#787b86", "strokeOpacity": 0.6, "strokeWidth": 1, "strokeDash": [5, 5]},
          "encoding": {"x": {"field": "from", "type": "temporal"}, "x2": {"field": "to"}, "y": {"field": "value", "type": "quantitative"}}
        },
        {
          "data": {"name": "daily"},
          "mark": {"type": "bar", "width": 8, "clip": true},
          "encoding": {
            "y": {"field": "hist", "type": "quantitative", "stack": null},
            "y2": {"datum": 0},
            "color": {"field": "state", "type": "nominal", "legend": null, "scale": {"domain": ["up", "upfade", "down", "downfade"], "range": ["#26a69a", "#b2dfdb", "#ff5252", "#ffcdd2"]}}
          }
        },
        {
          "data": {"name": "daily"},
          "mark": {"type": "line", "stroke": "#2962ff", "strokeWidth": 1.6, "clip": true}
        },
        {
          "data": {"name": "daily"},
          "mark": {"type": "line", "stroke": "#ff6d00", "strokeWidth": 1.6, "clip": true},
          "encoding": {"y": {"field": "signal", "type": "quantitative"}}
        },
        {
          "data": {"values": [{"from": "2024-07-10T00:00:00Z", "to": "2025-03-19T05:00:00Z", "value": -150.5}]},
          "mark": {"type": "rule", "stroke": "#f0f3fa", "strokeWidth": 2},
          "encoding": {"x": {"field": "from", "type": "temporal"}, "x2": {"field": "to"}, "y": {"field": "value", "type": "quantitative"}}
        },
        {
          "data": {"values": [{"at": "2024-07-10T00:00:00Z", "top": 268.7, "bottom": -150.5}, {"at": "2025-03-19T05:00:00Z", "top": 268.7, "bottom": -150.5}]},
          "mark": {"type": "rule", "stroke": "#f0f3fa", "strokeWidth": 2},
          "encoding": {"x": {"field": "at", "type": "temporal"}, "y": {"field": "top", "type": "quantitative"}, "y2": {"field": "bottom"}}
        },
        {
          "data": {"name": "macdTags"},
          "mark": {"type": "rect", "cornerRadiusTopRight": 2, "cornerRadiusBottomRight": 2},
          "encoding": {
            "x": {"field": "from", "type": "temporal"},
            "x2": {"field": "to"},
            "y": {"field": "top", "type": "quantitative"},
            "y2": {"field": "bottom"},
            "color": {"field": "kind", "type": "nominal", "legend": null, "scale": {"domain": ["hist", "signal", "macd"], "range": ["#ff5252", "#ff6d00", "#2962ff"]}}
          }
        },
        {
          "data": {"name": "macdTagText"},
          "mark": {"type": "text", "align": "left", "baseline": "middle", "color": "#ffffff"},
          "encoding": {
            "x": {"field": "at", "type": "temporal"},
            "y": {"field": "value", "type": "quantitative"},
            "text": {"field": "text"}
          }
        },
        {
          "data": {"name": "macdNotes"},
          "mark": {"type": "text", "align": "left", "baseline": "middle"},
          "encoding": {
            "x": {"field": "date", "type": "temporal"},
            "y": {"field": "value", "type": "quantitative"},
            "text": {"field": "text"},
            "color": {"field": "kind", "type": "nominal", "legend": null, "scale": {"domain": ["ink", "hist", "macd", "signal"], "range": ["#131722", "#ff5252", "#2962ff", "#ff6d00"]}}
          }
        },
        {
          "data": {"name": "brand"},
          "mark": {"type": "point", "shape": "M-1 -0.48H-0.15V0.48H-0.5V-0.05H-1Z M-0.04 -0.25A0.17 0.17 0 1 1 0.3 -0.25A0.17 0.17 0 1 1 -0.04 -0.25Z M0.25 0.48L0.62 -0.48H1L0.6 0.48Z", "size": 900, "filled": true, "color": "#131722", "opacity": 1},
          "encoding": {"y": {"field": "value", "type": "quantitative"}}
        },
        {
          "data": {"name": "brand"},
          "mark": {"type": "text", "align": "left", "baseline": "middle", "fontSize": 18, "color": "#131722"},
          "encoding": {
            "x": {"field": "textDate", "type": "temporal"},
            "y": {"field": "textValue", "type": "quantitative"},
            "text": {"field": "text"}
          }
        }
      ]
    }
  ]
}
